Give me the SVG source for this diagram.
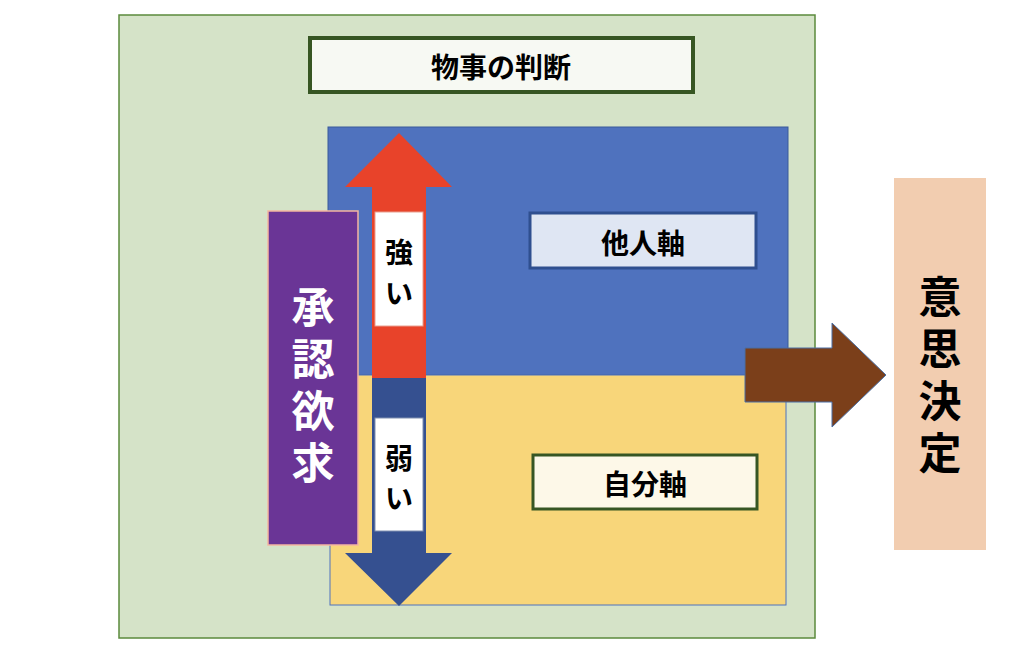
<svg xmlns="http://www.w3.org/2000/svg" width="1024" height="649" viewBox="0 0 1024 649">
<style>
text{font-family:"Noto Sans CJK JP","Noto Sans CJK SC",sans-serif;font-weight:bold;text-anchor:middle;dominant-baseline:central}
.lbl{font-size:28px;fill:#000}
.big{font-size:43px}
</style>
<rect width="1024" height="649" fill="#fff"/>
<g id="frame"><rect x="119" y="15" width="696" height="623" fill="#d5e3c8" stroke="#5b8a3c" stroke-width="1.5"/></g>
<g id="title"><rect x="310" y="38" width="383" height="54" fill="#f7f9f3" stroke="#375623" stroke-width="4"/><text x="501" y="66" class="lbl">物事の判断</text></g>
<g id="blue"><rect x="328" y="127" width="460" height="248" fill="#4f72be" stroke="#3a5a9a"/></g>
<g id="yellow"><rect x="330" y="375" width="456" height="230" fill="#f8d67a" stroke="#4f72be"/></g>
<g id="tanin"><rect x="530" y="213" width="226" height="55" fill="#dfe6f3" stroke="#2f4f8f" stroke-width="3"/><text x="643" y="242" class="lbl">他人軸</text></g>
<g id="jibun"><rect x="533" y="455" width="224" height="54" fill="#fdf8e8" stroke="#375623" stroke-width="3"/><text x="645" y="483" class="lbl">自分軸</text></g>
<g id="shonin"><rect x="268" y="211" width="90" height="334" fill="#6a3596" stroke="#f4b6a0" stroke-width="1.5"/>
<text x="313" y="304" class="big" fill="#fff">承</text><text x="313" y="356" class="big" fill="#fff">認</text><text x="313" y="408" class="big" fill="#fff">欲</text><text x="313" y="460" class="big" fill="#fff">求</text></g>
<g id="connectors">
<polygon points="399,133 452,187 426,187 426,378 372,378 372,187 345,187" fill="#e8432a"/>
<polygon points="372,378 426,378 426,553 452,553 399,606 345,553 372,553" fill="#355090"/>
<polygon points="745,348 832,348 832,323 886,375 832,427 832,402 745,402" fill="#7b3f1a" stroke="#4a6fa5" stroke-width="1"/>
</g>
<g id="tsuyoi"><rect x="375" y="212" width="48" height="114" fill="#fff" stroke="#e8a090"/><text x="399" y="251" class="lbl">強</text><text x="399" y="292" class="lbl">い</text></g>
<g id="yowai"><rect x="375" y="418" width="48" height="113" fill="#fff" stroke="#8090b0"/><text x="399" y="457" class="lbl">弱</text><text x="399" y="497" class="lbl">い</text></g>
<g id="ishi"><rect x="894" y="178" width="92" height="372" fill="#f2cdb0"/>
<text x="940" y="294" class="big" fill="#000">意</text><text x="940" y="346" class="big" fill="#000">思</text><text x="940" y="398" class="big" fill="#000">決</text><text x="940" y="450" class="big" fill="#000">定</text></g>
</svg>
